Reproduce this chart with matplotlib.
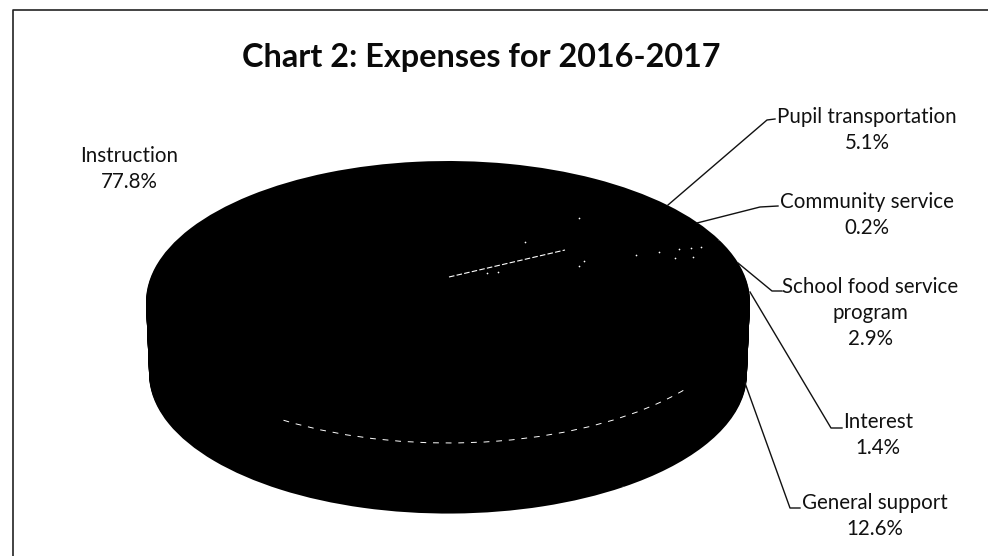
import numpy as np
import matplotlib
matplotlib.use('Agg')
import matplotlib.pyplot as plt
from matplotlib.patches import Arc

plt.rcParams['font.family'] = ['Lato', 'DejaVu Sans']

W, H = 988, 556

title = 'Chart 2: Expenses for 2016-2017'
categories = ['Instruction', 'Pupil transportation', 'Community service',
              'School food service\nprogram', 'Interest', 'General support']
values = [77.8, 5.1, 0.2, 2.9, 1.4, 12.6]

# label centre (px), leader line from the pie out to the label (px)
label_x = [129, 867, 867, 870, 878, 875]
label_y = [169, 130, 215, 313, 435, 516]
leader_x = [[], [668, 767, 775], [697, 760, 778], [738, 772, 782], [750, 831, 842], [745, 790, 800]]
leader_y = [[], [205, 120, 119], [223, 207, 206], [263, 291, 291], [292, 428, 428], [383, 508, 508]]

# bits of white showing through the scan
speck_x = [579, 525, 584, 579, 636, 659, 679, 691, 701, 675, 693, 487, 498]
speck_y = [218, 242, 261, 266, 255, 252, 249, 248, 247, 258, 257, 273, 272]
seam_x = [449, 565]
seam_y = [277, 250]

fig = plt.figure(figsize=(W / 100, H / 100), dpi=100, facecolor='white')
ax = fig.add_axes([0, 0, 1, 1])
ax.set_xlim(0, W)
ax.set_ylim(H, 0)
ax.axis('off')

# pie: top ellipse spans 146-750 / 161-443, side depth 71 px
cx, cy, rx, ry = 448, 302, 302, 141
depth = 72
ax_pie = fig.add_axes([(cx - rx) / W, 1 - (cy + ry) / H, 2 * rx / W, 2 * ry / H], zorder=1)
for d in np.linspace(depth / ry, 0, 60):
    # sides lean in a little towards the bottom
    ax_pie.pie(values, startangle=306, counterclock=False, radius=1 - 0.02 * d, center=(0, -d),
               colors=['black'] * len(values), wedgeprops={'clip_on': False, 'linewidth': 0})
ax_pie.set_aspect('auto')
ax_pie.set_xlim(-1, 1)
ax_pie.set_ylim(-1, 1)
ax_pie.axis('off')
ax_pie.add_patch(Arc((0, 0), 2, 2, theta1=-123, theta2=-38, color='white', lw=0.7,
                     ls=(0, (6, 7)), clip_on=False))

ax_top = fig.add_axes([0, 0, 1, 1], zorder=2)
ax_top.set_xlim(0, W)
ax_top.set_ylim(H, 0)
ax_top.axis('off')
ax_top.patch.set_alpha(0)
ax_top.plot(seam_x, seam_y, color='white', lw=0.8, ls=(0, (5, 2)))
ax_top.scatter(speck_x, speck_y, s=1.5, color='white', linewidths=0)

for lx, ly in zip(leader_x, leader_y):
    ax_top.plot(lx, ly, color='#111111', lw=1)

for name, v, x, y in zip(categories, values, label_x, label_y):
    ax_top.text(x, y, f'{name}\n{v}%', ha='center', va='center', fontsize=14.8,
                linespacing=1.38, color='#111111')

ax_top.text(481, 57, title, ha='center', va='center', fontsize=23.3, fontweight='bold', color='#0a0a0a')

# chart frame, only left and top survive in the scan
ax_top.plot([12.5, 12.5, W], [H, 10, 10], color='#222222', lw=1.2)

fig.savefig('out.png', dpi=100)
